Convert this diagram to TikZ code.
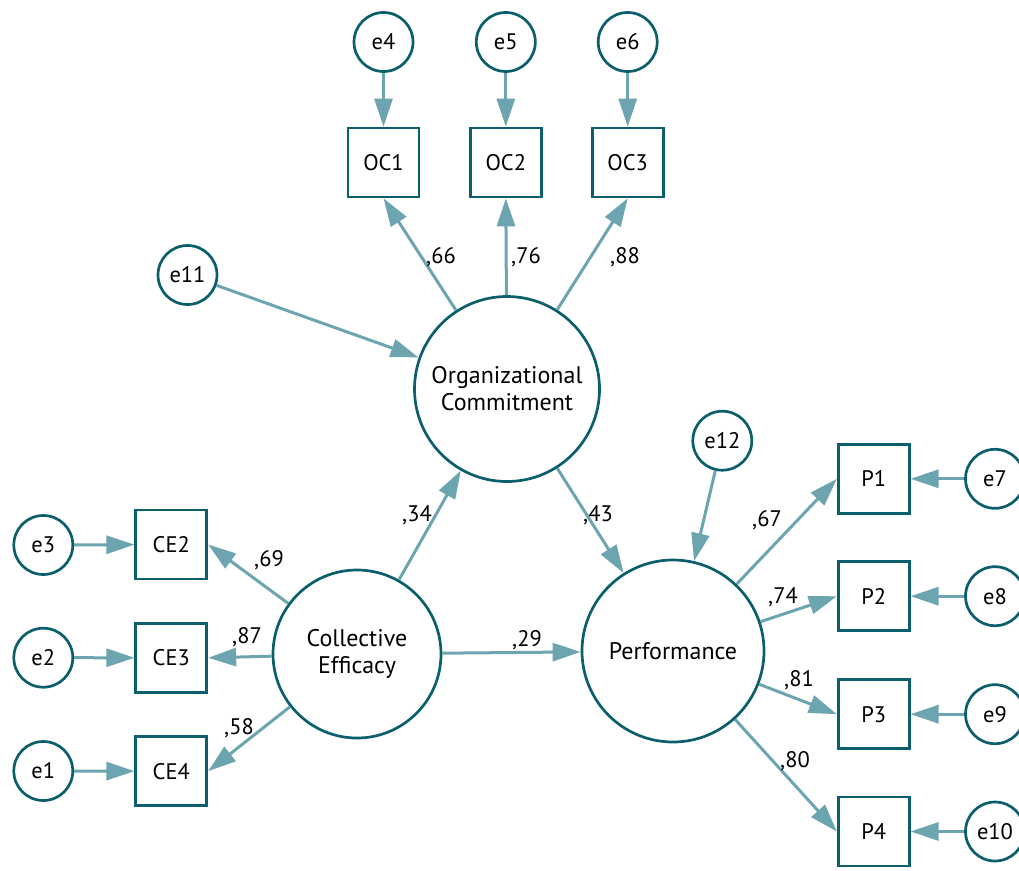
\documentclass[tikz,border=0pt]{standalone}
\usepackage{fontspec}
\setmainfont{PT Sans}
\usetikzlibrary{arrows.meta}
\definecolor{outl}{HTML}{0B5E6C}
\definecolor{arr}{HTML}{6CA4B0}
\begin{document}
\begin{tikzpicture}[x=1pt,y=-1pt,
  txt/.style={font=\fontsize{22.5}{26}\selectfont},
  err/.style={circle,draw=outl,fill=white,line width=2.7pt,minimum size=59pt,inner sep=0pt,txt},
  obs/.style={rectangle,draw=outl,fill=white,line width=2.7pt,minimum width=71pt,minimum height=69pt,inner sep=0pt,txt},
  lat/.style={circle,draw=outl,fill=white,line width=2.7pt,inner sep=0pt,align=center,font=\fontsize{24}{27}\selectfont},
  pth/.style={draw=arr,line width=3pt,-{Triangle[length=28pt,width=18pt]}},
  coef/.style={txt,inner sep=0pt}
]
\useasboundingbox (0,0) rectangle (1019,870);
% latent
\node[lat,minimum size=185pt] (OC) at (507,389) {Organizational\\Commitment};
\node[lat,minimum size=182pt] (PF) at (673,651) {Performance};
\node[lat,minimum size=168pt] (CE) at (357,654) {Collective\\Efficacy};
% observed
\node[obs] (OC1) at (383.5,162.5) {OC1};
\node[obs] (OC2) at (505.8,162.5) {OC2};
\node[obs] (OC3) at (627.7,162.5) {OC3};
\node[obs] (CE2) at (171.3,544.5) {CE2};
\node[obs] (CE3) at (171.3,657.8) {CE3};
\node[obs] (CE4) at (171.3,771.2) {CE4};
\node[obs] (P1) at (873.7,478.8) {P1};
\node[obs] (P2) at (873.7,596.2) {P2};
\node[obs] (P3) at (873.7,714.2) {P3};
\node[obs] (P4) at (873.7,831.5) {P4};
% errors
\node[err] (e4) at (383.5,42) {e4};
\node[err] (e5) at (505.8,42) {e5};
\node[err] (e6) at (627.7,42) {e6};
\node[err] (e11) at (187.5,275) {e11};
\node[err] (e12) at (722.3,440.7) {e12};
\node[err] (e3) at (43.3,545) {e3};
\node[err] (e2) at (43.3,657.7) {e2};
\node[err] (e1) at (43.3,771) {e1};
\node[err] (e7) at (995,478.8) {e7};
\node[err] (e8) at (995,596.2) {e8};
\node[err] (e9) at (995,714.2) {e9};
\node[err] (e10) at (995,831.5) {e10};
% error paths
\draw[pth] (e4) -- (OC1);
\draw[pth] (e5) -- (OC2);
\draw[pth] (e6) -- (OC3);
\draw[pth] (e3) -- (CE2);
\draw[pth] (e2) -- (CE3);
\draw[pth] (e1) -- (CE4);
\draw[pth] (e7) -- (P1);
\draw[pth] (e8) -- (P2);
\draw[pth] (e9) -- (P3);
\draw[pth] (e10) -- (P4);
\draw[pth] (e11) -- (OC);
\draw[pth] (e12) -- (PF);
% loadings
\draw[pth] (OC) -- (OC1.south);
\draw[pth] (OC) -- (OC2.south);
\draw[pth] (OC) -- (OC3.south);
\draw[pth] (CE) -- (CE2.east);
\draw[pth] (CE) -- (CE3.east);
\draw[pth] (CE) -- (CE4.east);
\draw[pth] (PF) -- (P1.west);
\draw[pth] (PF) -- (P2.west);
\draw[pth] (PF) -- (P3.west);
\draw[pth] (PF) -- (P4.west);
% structural
\draw[pth] (CE) -- (OC);
\draw[pth] (OC) -- (PF);
\draw[pth] (CE) -- (PF);
% coefficients
\node[coef] (c66) at (441,257) {,66};
\node[coef] (c76) at (526,257) {,76};
\node[coef] (c88) at (625,257) {,88};
\node[coef] (c34) at (417,515) {,34};
\node[coef] (c43) at (598,515) {,43};
\node[coef] (c29) at (527,640) {,29};
\node[coef] (c69) at (269,560) {,69};
\node[coef] (c87) at (247,637) {,87};
\node[coef] (c58) at (239,728) {,58};
\node[coef] (c67) at (767,520) {,67};
\node[coef] (c74) at (783,597) {,74};
\node[coef] (c81) at (799,680) {,81};
\node[coef] (c80) at (795,761) {,80};
\end{tikzpicture}
\end{document}
